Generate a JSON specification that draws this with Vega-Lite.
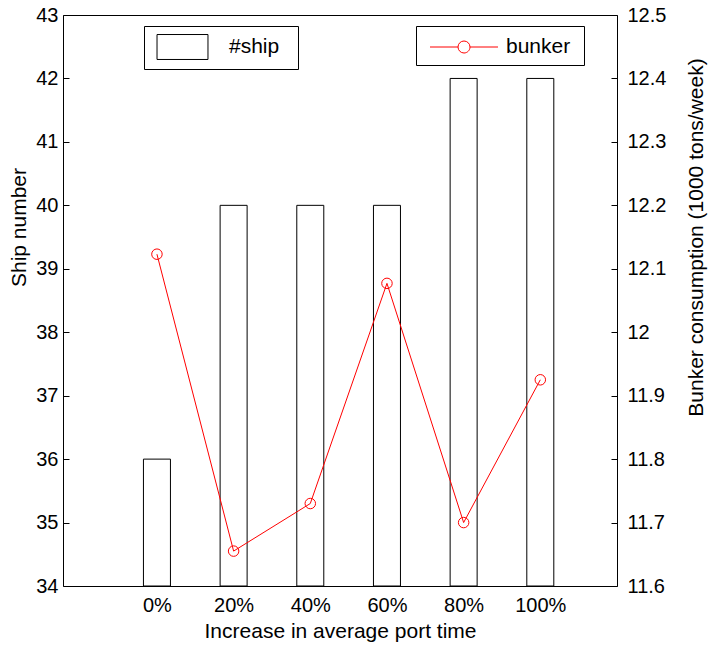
{
  "$schema": "https://vega.github.io/schema/vega-lite/v6.json",
  "width": 554,
  "height": 571,
  "autosize": {"type": "none"},
  "padding": {"left": 63, "top": 15, "right": 91, "bottom": 61},
  "background": "white",
  "config": {
    "font": "Liberation Sans",
    "view": {"stroke": "black", "strokeWidth": 1},
    "axis": {
      "grid": false,
      "domain": false,
      "labelFontSize": 20,
      "titleFontSize": 21,
      "titleFontWeight": "normal",
      "labelColor": "black",
      "titleColor": "black",
      "tickColor": "black",
      "labelFont": "Liberation Sans",
      "titleFont": "Liberation Sans"
    },
    "legend": {"labelFont": "Liberation Sans", "labelColor": "black"}
  },
  "data": {
    "values": [
      {"port": 0, "ships": 36, "bunker": 12.123},
      {"port": 1, "ships": 40, "bunker": 11.655},
      {"port": 2, "ships": 40, "bunker": 11.73},
      {"port": 3, "ships": 40, "bunker": 12.077},
      {"port": 4, "ships": 42, "bunker": 11.7},
      {"port": 5, "ships": 42, "bunker": 11.925}
    ]
  },
  "encoding": {
    "x": {
      "field": "port",
      "type": "quantitative",
      "scale": {"domain": [-1.16, 5.935], "nice": false, "zero": false},
      "axis": {
        "title": "Increase in average port time",
        "values": [0, 1, 2, 3, 4, 5],
        "labelExpr": "(datum.value * 20) + '%'",
        "ticks": false,
        "labelPadding": 9,
        "titlePadding": 5
      }
    }
  },
  "layer": [
    {
      "mark": {"type": "bar", "fill": "white", "stroke": "black", "strokeWidth": 1, "width": 27},
      "encoding": {
        "y": {
          "field": "ships",
          "type": "quantitative",
          "scale": {"domain": [34, 43], "nice": false, "zero": false},
          "axis": {
            "title": "Ship number",
            "values": [34, 35, 36, 37, 38, 39, 40, 41, 42, 43],
            "tickSize": -6,
            "labelPadding": 11,
            "titlePadding": 6,
            "titleY": 212
          }
        },
        "y2": {"datum": 34},
        "fill": {
          "datum": "#ship",
          "type": "nominal",
          "scale": {"range": ["white"]},
          "legend": {
            "orient": "none",
            "legendX": 81,
            "legendY": 11,
            "title": null,
            "symbolType": "M-1.96,-0.96H1.96V0.96H-1.96ZM8.15,0",
            "symbolSize": 676,
            "symbolStrokeColor": "black",
            "symbolStrokeWidth": 1,
            "symbolOffset": 17.5,
            "labelOffset": 33,
            "labelFontSize": 21,
            "strokeColor": "black",
            "fillColor": "white",
            "padding": 7.5
          }
        }
      }
    },
    {
      "encoding": {
        "y": {
          "field": "bunker",
          "type": "quantitative",
          "scale": {"domain": [11.6, 12.5], "nice": false, "zero": false},
          "axis": {
            "orient": "right",
            "title": "Bunker consumption (1000 tons/week)",
            "titleAngle": 270,
            "titleY": 222,
            "values": [11.6, 11.7, 11.8, 11.9, 12, 12.1, 12.2, 12.3, 12.4, 12.5],
            "labelExpr": "'' + datum.value",
            "tickSize": -6,
            "labelPadding": 16,
            "titlePadding": 41
          }
        }
      },
      "layer": [
        {
          "mark": {"type": "line", "strokeWidth": 1},
          "encoding": {
            "stroke": {
              "datum": "bunker",
              "type": "nominal",
              "scale": {"range": ["red"]},
              "legend": {
                "orient": "none",
                "legendX": 353,
                "legendY": 11,
                "title": null,
                "symbolType": "M-2.615,0H-0.4615M0.4615,0H2.615M-0.4615,0A0.4615,0.4615 0 1,1 0.4615,0A0.4615,0.4615 0 1,1 -0.4615,0M8.5,0",
                "symbolSize": 676,
                "symbolStrokeColor": "red",
                "symbolFillColor": "transparent",
                "symbolStrokeWidth": 1,
                "symbolOffset": 27,
                "labelOffset": 28.5,
                "labelFontSize": 21,
                "strokeColor": "black",
                "fillColor": "white",
                "padding": 7.5
              }
            }
          }
        },
        {
          "mark": {"type": "point", "shape": "circle", "filled": false, "stroke": "red", "strokeWidth": 1, "size": 110, "opacity": 1}
        }
      ]
    }
  ],
  "resolve": {"scale": {"y": "independent"}}
}
